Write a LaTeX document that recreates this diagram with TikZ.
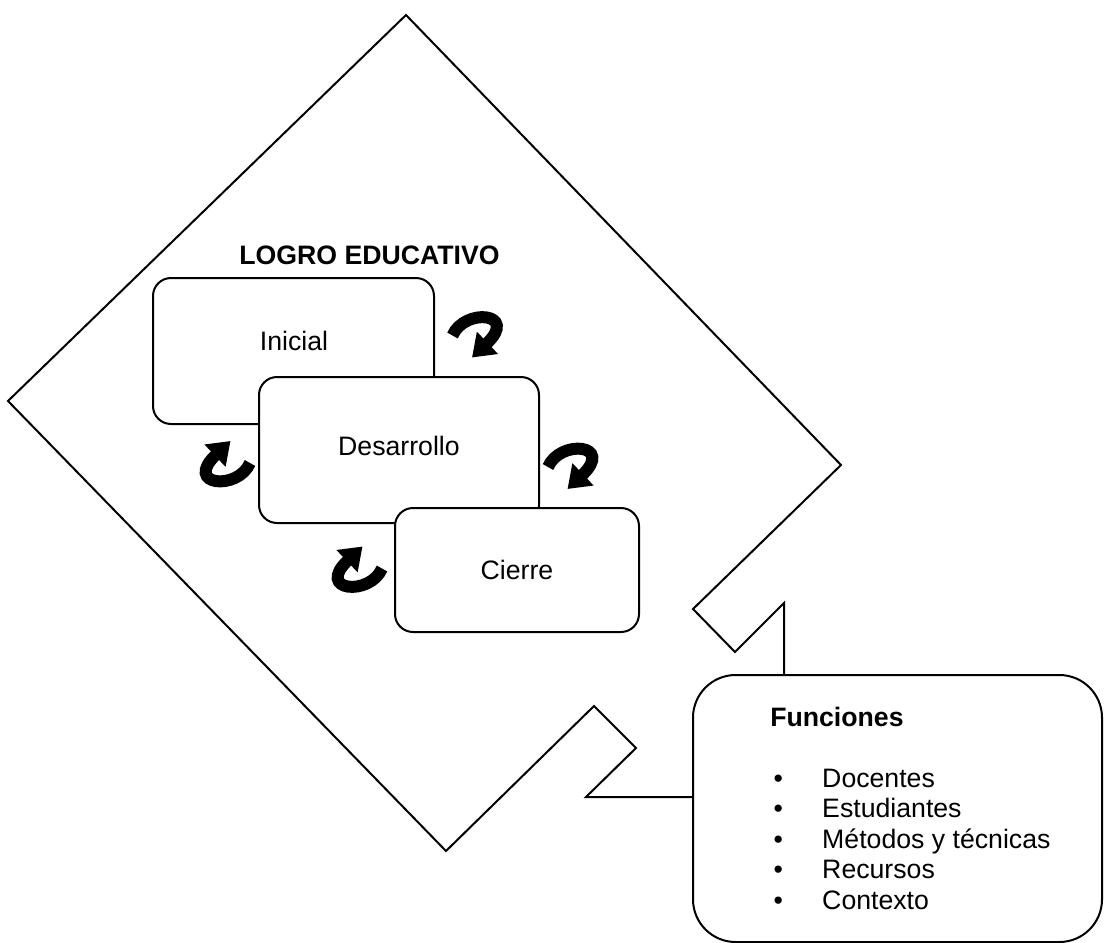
\documentclass[tikz,border=0pt]{standalone}
\usepackage{fontspec}
\setmainfont{Liberation Sans}
\usetikzlibrary{arrows.meta}
\tikzstyle{etapa} = [rectangle, rounded corners=13.5pt, line width=1.5pt, draw=black, fill=white, inner sep=0pt, outer sep=0pt]
\tikzstyle{marco} = [line width=1.5pt, line join=miter]
\tikzstyle{flecha} = [line width=9pt, -{Triangle[width=22pt,length=16pt]}]
\tikzstyle{texto} = [inner sep=0pt]
\tikzset{giro/.pic={\draw[flecha] (-24.5,0) .. controls (-12.5,-28) and (42.5,-23) .. (-5,22);}}

\begin{document}
\begin{tikzpicture}[x=0.75pt, y=-0.75pt, font=\fontsize{20}{22.9}\selectfont]
\useasboundingbox (0,0) rectangle (1104,943);
% corners of the frame
\coordinate (arriba) at (406,15);
\coordinate (izq) at (8,401);
\coordinate (abajo) at (446,851);
\coordinate (der) at (841,465);
\coordinate (m1) at (693,609);
\coordinate (m2) at (735,652);
\coordinate (m3) at (784,603);
\coordinate (n1) at (594,706);
\coordinate (n2) at (636,748);
\coordinate (n3) at (586,797);

% nodes
\node (fun) [etapa, rounded corners=32pt, minimum width=306.75pt, minimum height=200.25pt] at (897.5,808.5) {};
\node (lista) [texto, anchor=base west] at (770,726) {\begin{tabular}[t]{@{}l@{}}
\textbf{Funciones}\\
\\
\makebox[39pt][l]{\hspace{2.5pt}•}Docentes\\
\makebox[39pt][l]{\hspace{2.5pt}•}Estudiantes\\
\makebox[39pt][l]{\hspace{2.5pt}•}Métodos y técnicas\\
\makebox[39pt][l]{\hspace{2.5pt}•}Recursos\\
\makebox[39pt][l]{\hspace{2.5pt}•}Contexto
\end{tabular}};

\node (logro) [texto, anchor=base] at (369.5,264) {\textbf{LOGRO EDUCATIVO}};
\node (ini) [etapa, minimum width=210.75pt, minimum height=109.5pt] at (293.5,351) {};
\node (ini-t) [texto] at (294,341) {Inicial};
\node (des) [etapa, minimum width=210pt, minimum height=109.5pt] at (399,450) {};
\node (des-t) [texto] at (399,446) {Desarrollo};
\node (cie) [etapa, minimum width=183pt, minimum height=93pt] at (517,570) {};
\node (cie-t) [texto] at (517,570) {Cierre};

% frame
\draw[marco] (m3 |- fun.north) -- (m3) -- (m2) -- (m1) -- (der) -- (arriba) -- (izq) -- (abajo) -- (n1) -- (n2) -- (n3) -- (n3 -| fun.west);

% turning arrows
\pic (g1) at (477,335.5) {giro};
\pic (g2) at (572.5,467) {giro};
\pic[rotate=180] (g3) at (225.5,463) {giro};
\pic[rotate=180] (g4) at (357.5,568.5) {giro};

\end{tikzpicture}
\end{document}
